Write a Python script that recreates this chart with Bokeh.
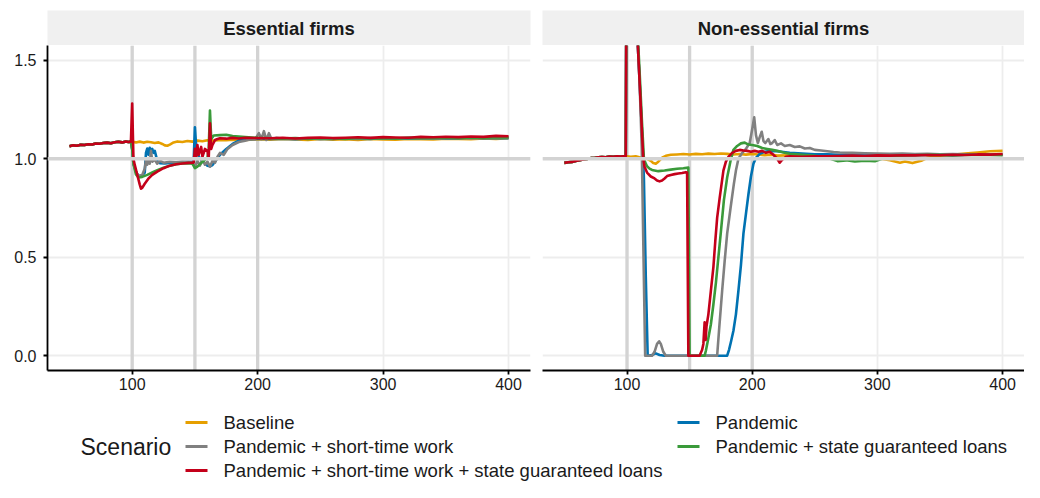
from bokeh.plotting import figure
from bokeh.layouts import column, row
from bokeh.models import Range1d, Span, FixedTicker, PrintfTickFormatter
from bokeh.core.properties import value
from bokeh.embed import file_html
from bokeh.resources import INLINE

# ---------------- data ----------------
SCENARIOS = ["Baseline", "Pandemic", "Pandemic + short-time work",
             "Pandemic + state guaranteed loans",
             "Pandemic + short-time work + state guaranteed loans"]
COLORS = ["#E69F00", "#0072B2", "#808080", "#3A9A3A", "#C4001A"]
PANELS = ["Essential firms", "Non-essential firms"]
X_TICKS = [100, 200, 300, 400]
Y_TICKS = [0.0, 0.5, 1.0, 1.5]
EVENT_T = [100, 150, 200]
REF_LEVEL = 1.0

TAIL_T = [210, 220, 230, 240, 250, 260, 270, 280, 290, 300,
          310, 320, 330, 340, 350, 360, 370, 380, 390, 400]

# Essential firms: common path before t=100
E_PRE_T = [50, 53, 56, 59, 62, 65, 68, 71, 74, 77, 80, 83, 86, 89, 92, 95, 97, 99]
E_PRE_Y = [1.063, 1.068, 1.066, 1.071, 1.070, 1.074, 1.072, 1.077, 1.076, 1.080,
           1.082, 1.079, 1.084, 1.086, 1.083, 1.088, 1.085, 1.087]

E_BASE_T = [100, 103, 106, 109, 112, 115, 118, 121, 124, 126, 128, 130, 133, 136, 140,
            144, 148, 152, 156, 160, 165, 170, 175, 180, 190, 200] + TAIL_T
E_BASE_Y = [1.086, 1.083, 1.087, 1.082, 1.086, 1.084, 1.080, 1.083, 1.075, 1.068,
            1.066, 1.072, 1.083, 1.088, 1.085, 1.090, 1.087, 1.092, 1.089, 1.094,
            1.092, 1.096, 1.094, 1.097, 1.096, 1.099,
            1.097, 1.100, 1.098, 1.096, 1.100, 1.097, 1.099, 1.096, 1.100, 1.098,
            1.097, 1.101, 1.099, 1.098, 1.102, 1.100, 1.099, 1.103, 1.101, 1.104]

E_PAN_T = [100, 101, 103, 105, 108, 110, 111, 112, 113, 114, 115, 116, 117, 118, 120,
           122, 126, 130, 135, 140, 145, 149, 150, 151, 152, 154, 156, 158, 160, 162,
           164, 166, 170, 175, 180, 185, 190, 200] + TAIL_T
E_PAN_Y = [1.05, 0.975, 0.935, 0.912, 0.915, 0.93, 1.03, 1.052, 1.02, 1.056, 1.032,
           1.05, 1.03, 1.04, 0.99, 0.978, 0.976, 0.979, 0.981, 0.982, 0.984, 0.985,
           1.16, 1.06, 1.03, 1.0, 0.99, 0.975, 0.965, 0.962, 0.968, 0.985, 1.02,
           1.05, 1.075, 1.092, 1.098, 1.101,
           1.100, 1.102, 1.099, 1.103, 1.101, 1.100, 1.104, 1.102, 1.101, 1.105,
           1.103, 1.102, 1.104, 1.106, 1.103, 1.105, 1.107, 1.104, 1.106, 1.105]

E_STW_T = [100, 101, 103, 105, 108, 110, 111, 112, 113, 114, 115, 116, 118, 120, 122,
           125, 130, 135, 140, 145, 148, 150, 152, 154, 156, 158, 160, 162, 164, 166,
           168, 170, 173, 176, 180, 185, 190, 195, 198, 201, 203, 205, 207, 209, 211,
           215, 220, 230, 240, 250, 260, 270, 280, 290, 300, 310, 320, 330, 340, 350,
           360, 370, 380, 390, 400]
E_STW_Y = [1.05, 0.975, 0.935, 0.912, 0.918, 0.95, 0.99, 0.97, 1.0, 0.975, 1.04,
           0.985, 0.995, 0.975, 0.99, 0.98, 0.985, 0.982, 0.986, 0.983, 0.98, 0.958,
           0.99, 0.965, 1.0, 0.97, 0.985, 0.96, 0.99, 0.98, 1.01, 1.03, 1.02, 1.05,
           1.07, 1.085, 1.092, 1.1, 1.098, 1.13, 1.10, 1.14, 1.095, 1.13, 1.10, 1.106,
           1.102, 1.100, 1.103, 1.101, 1.104, 1.102, 1.100, 1.105, 1.103, 1.102,
           1.106, 1.104, 1.103, 1.105, 1.107, 1.104, 1.106, 1.108, 1.106]

E_LOAN_T = [100, 101, 103, 105, 108, 112, 116, 120, 125, 130, 135, 140, 145, 148, 150,
            152, 155, 158, 160, 161, 162, 163, 165, 170, 175, 180, 190, 200] + TAIL_T
E_LOAN_Y = [1.05, 0.975, 0.92, 0.905, 0.908, 0.918, 0.93, 0.942, 0.955, 0.965, 0.972,
            0.976, 0.978, 0.975, 0.952, 0.96, 0.978, 0.995, 1.005, 1.05, 1.245, 1.10,
            1.118, 1.12, 1.122, 1.115, 1.11, 1.106,
            1.104, 1.102, 1.105, 1.101, 1.104, 1.103, 1.100, 1.105, 1.103, 1.104,
            1.102, 1.106, 1.104, 1.105, 1.107, 1.104, 1.108, 1.106, 1.109, 1.108]

E_BOTH_T = [100, 101, 102, 104, 106, 107, 108, 110, 113, 116, 120, 125, 130, 135, 140,
            145, 149, 150, 151, 152, 153, 155, 156, 158, 160, 161, 162, 163, 164, 166,
            168, 170, 175, 180, 185, 190, 200] + TAIL_T
E_BOTH_Y = [1.28, 1.0, 0.97, 0.92, 0.87, 0.848, 0.852, 0.873, 0.9, 0.918, 0.935,
            0.952, 0.965, 0.972, 0.976, 0.979, 0.98, 1.05, 1.0, 1.07, 1.02, 1.06, 1.01,
            1.05, 1.04, 1.0, 1.18, 1.05, 1.07, 1.095, 1.1, 1.104, 1.102, 1.106, 1.103,
            1.107, 1.105,
            1.104, 1.107, 1.103, 1.106, 1.108, 1.105, 1.107, 1.109, 1.106, 1.110,
            1.108, 1.107, 1.111, 1.109, 1.112, 1.110, 1.113, 1.111, 1.116, 1.114]

# Non-essential firms: common path before t=100
N_PRE_T = [50, 53, 56, 59, 62, 65, 68, 71, 74, 77, 80, 83, 86, 89, 92, 95, 97, 99]
N_PRE_Y = [0.979, 0.982, 0.984, 0.989, 0.992, 0.996, 0.999, 1.003, 1.004, 1.007,
           1.009, 1.008, 1.011, 1.010, 1.012, 1.011, 1.013, 1.012]

N_BASE_T = [100, 103, 107, 110, 113, 116, 119, 121, 123, 125, 128, 131, 135, 140, 145,
            150, 155, 160, 165, 170, 175, 180, 185, 190, 195, 200, 205, 210, 215, 220,
            230, 240, 250, 260, 270, 280, 290, 300, 310, 318, 322, 328, 335, 340, 350,
            360, 370, 380, 390, 400]
N_BASE_Y = [1.012, 1.01, 1.012, 1.008, 1.005, 1.0, 0.99, 0.978, 0.975, 0.985, 1.005,
            1.015, 1.02, 1.022, 1.024, 1.022, 1.025, 1.023, 1.026, 1.024, 1.027, 1.025,
            1.022, 1.024, 1.021, 1.024, 1.022, 1.018, 1.021, 1.016, 1.018, 1.016,
            1.017, 1.015, 1.016, 1.014, 1.01, 1.003, 0.992, 0.98, 0.986, 0.978, 0.99,
            1.005, 1.015, 1.02, 1.026, 1.032, 1.038, 1.04]

N_PAN_T = [100, 104, 108, 110, 112, 113.5, 115, 116.5, 120, 123, 126, 130, 180, 181.5,
           183, 185, 187, 189, 191, 193, 195, 197, 199, 201, 203, 206, 210, 215, 220,
           225, 230, 240, 250, 260, 270, 280, 290, 300, 310, 320, 330, 340, 350, 360,
           370, 380, 390, 400]
N_PAN_Y = [2.7, 2.18, 1.66, 1.4, 1.13, 0.9, 0.4, 0.0, 0.004, 0.012, 0.004, 0.0, 0.0,
           0.03, 0.07, 0.127, 0.21, 0.33, 0.46, 0.62, 0.72, 0.82, 0.91, 0.975, 1.005,
           1.025, 1.035, 1.04, 1.038, 1.034, 1.03, 1.026, 1.023, 1.022, 1.02, 1.021,
           1.019, 1.02, 1.018, 1.02, 1.019, 1.021, 1.02, 1.018, 1.021, 1.02, 1.022, 1.02]

N_STW_T = [100, 104, 108, 110, 111.8, 113.2, 114.5, 120, 122, 124, 125.7, 127, 129,
           131, 172, 173.5, 176, 178, 180, 182.7, 185.3, 187, 189, 192, 195, 198, 200,
           201.6, 203, 204.5, 206, 207.6, 209, 210.5, 212.9, 214.5, 216, 218, 220, 223,
           226, 230, 234, 238, 242, 246, 250, 255, 260, 265, 270, 280, 290, 300, 310,
           320, 330, 340, 350, 360, 370, 380, 390, 400]
N_STW_Y = [2.7, 2.18, 1.66, 1.4, 1.05, 0.5, 0.0, 0.0, 0.02, 0.06, 0.073, 0.06, 0.02,
           0.0, 0.0, 0.127, 0.33, 0.48, 0.62, 0.75, 0.87, 0.94, 1.0, 1.03, 1.05, 1.08,
           1.15, 1.21, 1.12, 1.08, 1.11, 1.137, 1.09, 1.08, 1.10, 1.075, 1.08, 1.095,
           1.07, 1.078, 1.065, 1.07, 1.06, 1.063, 1.052, 1.055, 1.045, 1.042, 1.038,
           1.034, 1.032, 1.03, 1.028, 1.027, 1.025, 1.026, 1.024, 1.025, 1.023, 1.024,
           1.022, 1.023, 1.021, 1.022]

N_LOAN_T = [100, 104, 108, 110, 112, 113.5, 115, 116, 118, 120, 125, 130, 135, 140,
            145, 149, 150, 162, 163, 165, 167, 169, 171, 173, 175, 177.4, 180, 182.7,
            185, 188, 191, 194, 197, 200, 204, 208, 212, 216, 220, 225, 230, 240, 250,
            260, 268, 275, 282, 290, 298, 306, 315, 330, 345, 360, 375, 390, 400]
N_LOAN_Y = [2.7, 2.2, 1.7, 1.45, 1.18, 1.0, 0.975, 0.962, 0.95, 0.943, 0.937, 0.94,
            0.945, 0.949, 0.952, 0.955, 0.0, 0.0, 0.025, 0.09, 0.16, 0.26, 0.37, 0.5,
            0.63, 0.79, 0.905, 0.99, 1.045, 1.065, 1.078, 1.082, 1.072, 1.07, 1.065,
            1.055, 1.05, 1.045, 1.04, 1.032, 1.025, 1.02, 1.015, 1.005, 0.988, 0.992,
            0.986, 0.99, 0.987, 1.005, 1.015, 1.018, 1.02, 1.017, 1.02, 1.019, 1.018]

N_BOTH_T = [100, 104, 108, 110, 112, 113, 114, 116, 119, 122, 124, 126, 128, 130, 132,
            135, 138, 141, 144, 147, 148, 149, 158, 160, 161, 162, 162.8, 163.5, 165,
            167, 169, 170.5, 172, 174, 175.5, 177, 179, 181, 184, 187, 190, 193, 196,
            199, 202, 205, 208, 211, 214, 217, 220, 222, 224, 227, 230, 240, 250, 260,
            270, 280, 290, 300, 310, 320, 330, 340, 350, 360, 370, 380, 390, 400]
N_BOTH_Y = [2.7, 2.18, 1.66, 1.4, 1.13, 1.0, 0.96, 0.93, 0.91, 0.9, 0.89, 0.885, 0.89,
            0.9, 0.912, 0.918, 0.922, 0.925, 0.928, 0.932, 0.93, 0.0, 0.0, 0.03, 0.06,
            0.17, 0.08, 0.15, 0.21, 0.33, 0.45, 0.58, 0.70, 0.80, 0.87, 0.94, 0.985,
            1.01, 1.03, 1.04, 1.045, 1.042, 1.04, 1.035, 1.04, 1.035, 1.04, 1.03, 1.035,
            1.02, 1.0, 0.98, 0.995, 1.01, 1.012, 1.01, 1.013, 1.012, 1.014, 1.016,
            1.014, 1.017, 1.016, 1.018, 1.017, 1.019, 1.018, 1.02, 1.019, 1.022, 1.021,
            1.024]

ESSENTIAL = [(E_BASE_T, E_BASE_Y), (E_PAN_T, E_PAN_Y), (E_STW_T, E_STW_Y),
             (E_LOAN_T, E_LOAN_Y), (E_BOTH_T, E_BOTH_Y)]
NONESSENTIAL = [(N_BASE_T, N_BASE_Y), (N_PAN_T, N_PAN_Y), (N_STW_T, N_STW_Y),
                (N_LOAN_T, N_LOAN_Y), (N_BOTH_T, N_BOTH_Y)]

# ---------------- styling ----------------
FONT = "Liberation Sans"
TEXT_COLOR = "#1A1A1A"
X_RANGE = (32.5, 417.5)
Y_RANGE = (-0.075, 1.575)
LEFT_BORDER, GAP = 47, 12
LEFT_W = LEFT_BORDER + 483 + GAP
RIGHT_W = 482
STRIP_TOP, STRIP_H = 10, 35
FRAME_H, AXIS_H = 325, 26
LEG_H = 86


def make_strip(title, first):
    s = figure(width=LEFT_W if first else RIGHT_W, height=STRIP_TOP + STRIP_H,
               x_range=Range1d(0, 1), y_range=Range1d(0, 1),
               min_border_top=STRIP_TOP, min_border_bottom=0,
               min_border_left=LEFT_BORDER if first else 0,
               min_border_right=GAP if first else 0,
               x_axis_location=None, y_axis_location=None,
               toolbar_location=None, output_backend="svg",
               outline_line_color=None, background_fill_color="#F0F0F0",
               border_fill_color="white")
    s.grid.visible = False
    s.text(x=[0.5], y=[0.5], text=[title], text_align="center",
           text_baseline="middle", text_font=value(FONT),
           text_font_style="bold", text_font_size=value("18.5px"),
           text_color=TEXT_COLOR)
    return s


def make_panel(pre_t, pre_y, series, first):
    p = figure(width=LEFT_W if first else RIGHT_W, height=FRAME_H + AXIS_H,
               x_range=Range1d(*X_RANGE), y_range=Range1d(*Y_RANGE),
               min_border_top=0, min_border_bottom=AXIS_H,
               min_border_left=LEFT_BORDER if first else 0,
               min_border_right=GAP if first else 0,
               y_axis_location="left" if first else None,
               toolbar_location=None, output_backend="svg",
               outline_line_color=None, background_fill_color="white",
               border_fill_color="white")
    p.xgrid.ticker = FixedTicker(ticks=X_TICKS)
    p.ygrid.ticker = FixedTicker(ticks=Y_TICKS)
    for g in p.grid:
        g.grid_line_color = "#EDEDED"
        g.grid_line_width = 1.8
    for t in EVENT_T:
        p.add_layout(Span(location=t, dimension="height", line_color="#D3D3D3",
                          line_width=3.3, level="underlay"))
    for (ts, ys), color in zip(series, COLORS):
        p.line(x=pre_t + ts, y=pre_y + ys, line_color=color, line_width=2.6,
               line_join="round")
    p.add_layout(Span(location=REF_LEVEL, dimension="width", line_color="#D3D3D3",
                      line_width=3.3))
    axes = list(p.xaxis) + (list(p.yaxis) if first else [])
    for ax in axes:
        ax.axis_line_color = "black"
        ax.axis_line_width = 1.8
        ax.major_tick_line_color = "black"
        ax.major_tick_line_width = 1.8
        ax.major_tick_out = 4
        ax.major_tick_in = 0
        ax.minor_tick_line_color = None
        ax.major_label_text_font = FONT
        ax.major_label_text_font_size = "16px"
        ax.major_label_text_color = TEXT_COLOR
        ax.major_label_standoff = 3
    p.xaxis.ticker = FixedTicker(ticks=X_TICKS)
    if first:
        p.yaxis.ticker = FixedTicker(ticks=Y_TICKS)
        p.yaxis.formatter = PrintfTickFormatter(format="%.1f")
        p.yaxis.major_label_standoff = 7
    return p


strip1 = make_strip(PANELS[0], True)
strip2 = make_strip(PANELS[1], False)
p1 = make_panel(E_PRE_T, E_PRE_Y, ESSENTIAL, True)
p2 = make_panel(N_PRE_T, N_PRE_Y, NONESSENTIAL, False)

# ---------------- legend ----------------
leg = figure(width=LEFT_W + RIGHT_W, height=LEG_H,
             x_range=Range1d(0, LEFT_W + RIGHT_W), y_range=Range1d(LEG_H, 0),
             min_border=0, x_axis_location=None, y_axis_location=None,
             toolbar_location=None, output_backend="svg",
             outline_line_color=None, background_fill_color="white",
             border_fill_color="white")
leg.grid.visible = False
key_x0 = [185, 677]
label_x = [223, 715]
row_y0, row_dy = 26, 24
kx0, kx1, ky, tx, tys = [], [], [], [], []
for i, name in enumerate(SCENARIOS):
    c, r = i % 2, i // 2
    y = row_y0 + r * row_dy
    kx0.append(key_x0[c])
    kx1.append(key_x0[c] + 22)
    ky.append(y)
    tx.append(label_x[c])
    tys.append(y)
leg.segment(x0=kx0, y0=ky, x1=kx1, y1=ky, line_color=COLORS, line_width=3)
leg.text(x=tx, y=tys, text=SCENARIOS, text_align="left", text_baseline="middle",
         text_font=value(FONT), text_font_size=value("18.5px"), text_color=TEXT_COLOR)
leg.text(x=[80], y=[row_y0 + row_dy], text=["Scenario"], text_align="left",
         text_baseline="middle", text_font=value(FONT),
         text_font_size=value("23px"), text_color=TEXT_COLOR)

layout = column(row(strip1, strip2), row(p1, p2), leg)
open("out.html", "w").write(file_html(layout, INLINE))
